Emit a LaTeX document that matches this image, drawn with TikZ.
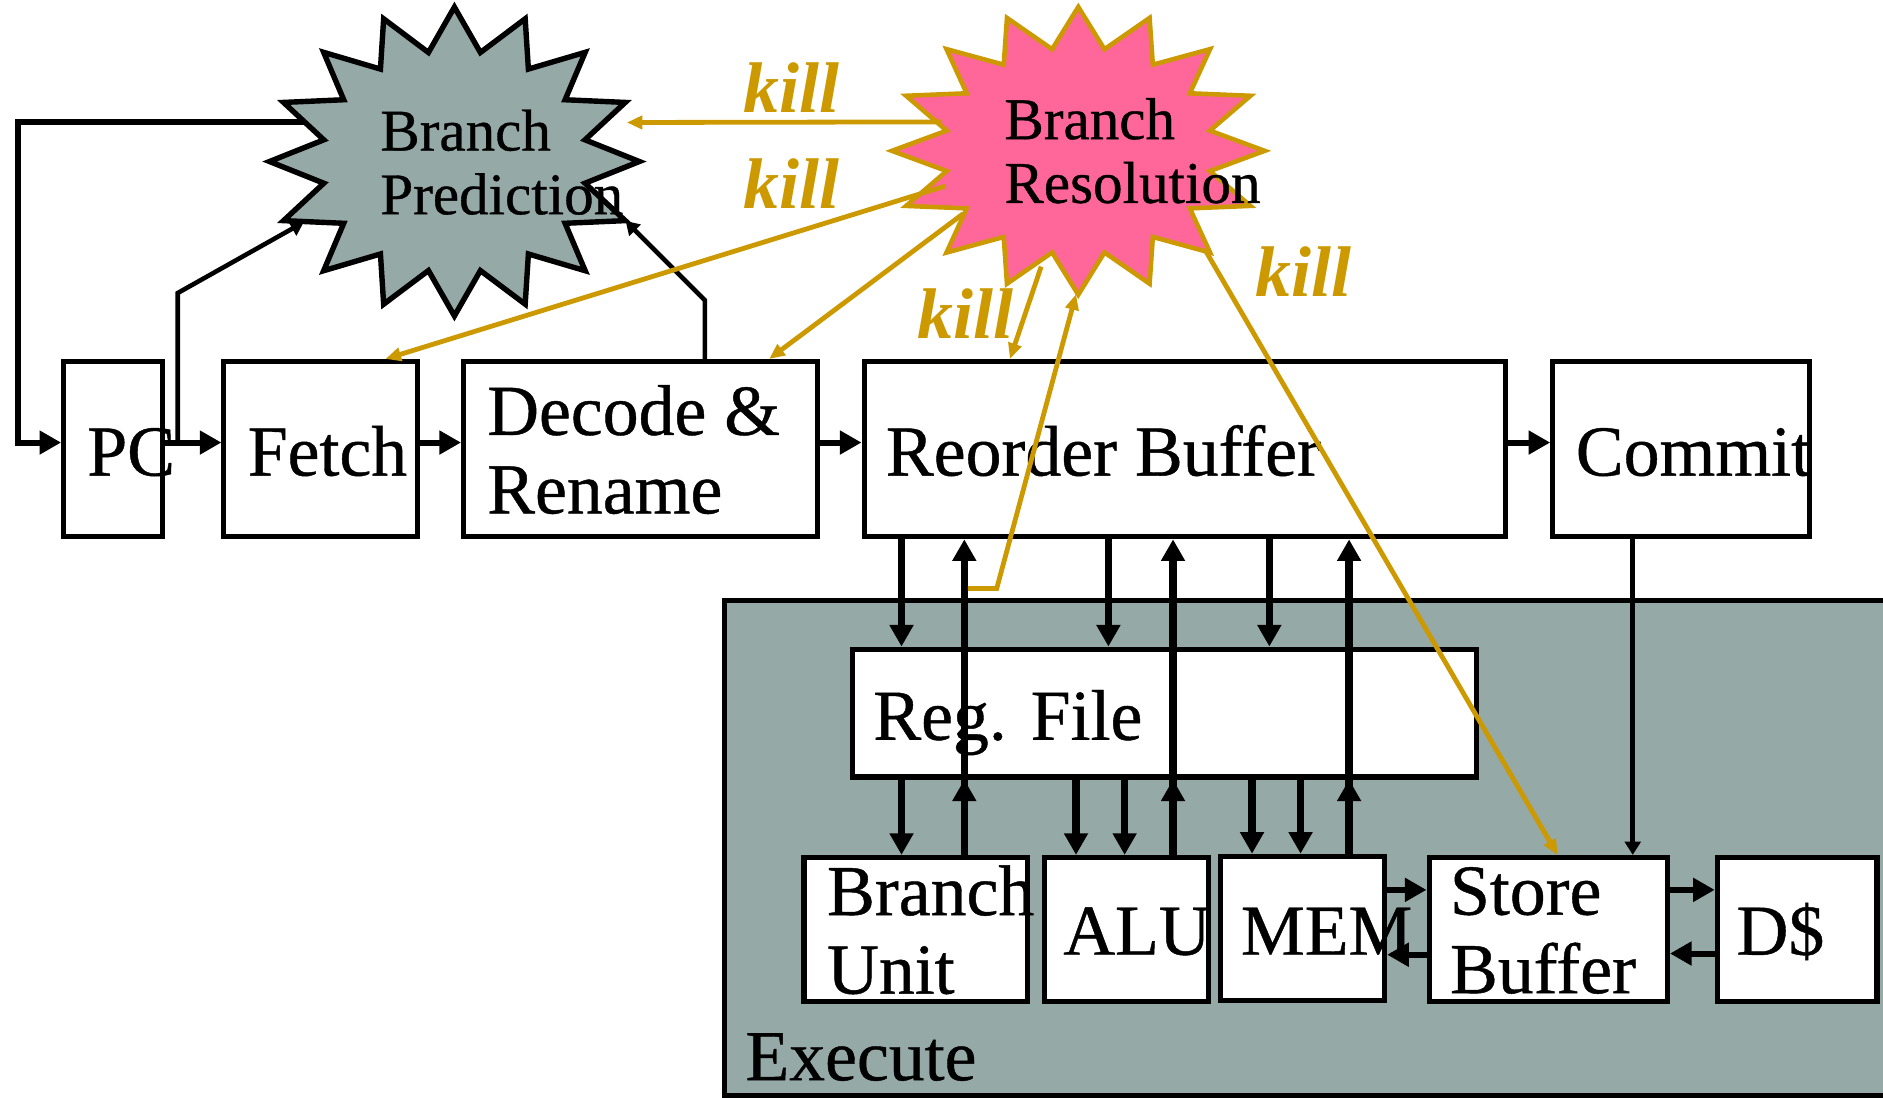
\documentclass[tikz,border=0pt]{standalone}
\usepackage{fontspec}
\setmainfont{Liberation Serif}
\newfontfamily\schoolfont{Liberation Serif}[FakeBold=0.6]
\usetikzlibrary{arrows.meta,fit}

\definecolor{execgray}{RGB}{149,169,167}
\definecolor{burstpink}{RGB}{255,102,153}
\definecolor{killgold}{RGB}{204,153,0}

\tikzset{
  unit/.style={draw=black, line width=0.42mm, fill=white, inner sep=0pt},
  boxtext/.style={anchor=base west, inner sep=0pt, align=left,
    font=\schoolfont\fontsize{17}{18.6}\selectfont},
  bursttext/.style={anchor=base west, inner sep=0pt, align=left,
    font=\schoolfont\fontsize{14}{15.1}\selectfont},
  killtext/.style={anchor=base west, inner sep=0pt, text=killgold,
    font=\fontsize{17}{18}\selectfont\bfseries\itshape},
  bus/.style={line width=0.5mm, -{Triangle[length=1.8mm,width=1.9mm]}},
  vbus/.style={line width=0.6mm, -{Triangle[length=1.8mm,width=1.9mm]}},
  wire/.style={line width=0.38mm, -{Triangle[length=1.1mm,width=1.3mm]}},
  killwire/.style={draw=killgold, line width=0.4mm,
    -{Triangle[length=1.3mm,width=1.1mm]}},
  % 16-point burst with elliptical radii: centre x, centre y, radius x, radius y
  burst/.style n args={4}{insert path={
    (#1,{#2-#4}) \foreach \k in {1,...,31}{
      -- ({#1+(0.86+0.14*cos(\k*180))*#3*sin(\k*11.25)},
          {#2-(0.86+0.14*cos(\k*180))*#4*cos(\k*11.25)}) } -- cycle}},
}

\begin{document}
\begin{tikzpicture}[x=0.1mm, y=-0.1mm]
\useasboundingbox (0,0) rectangle (1568,914);
\clip (0,0) rectangle (1568,914);

% execute stage background
\node[fit={(603,500) (1640,912)}, draw=black, line width=0.42mm,
      fill=execgray, inner sep=0pt] (exec) {};
\node[boxtext] (exectxt) at (620,899.5) {Execute};

% prediction and resolution bursts
\path[draw=black, line width=0.45mm, fill=execgray,
      burst={378.4}{134.5}{154}{128.6}];
\path[draw=killgold, line width=0.38mm, fill=burstpink,
      burst={897.9}{125.6}{155.2}{119.8}];
\node[bursttext] (bp) at (316,178.4) {Branch\\Prediction};
\node[bursttext] (br) at (835.7,168.9) {Branch\\Resolution};

% attachment points on the bursts
\coordinate (bp-w)   at (254,102);
\coordinate (bp-sw)  at (253,185);
\coordinate (bp-se)  at (521,184);
\coordinate (bp-e)   at (522,102);
\coordinate (br-w)   at (784,101.5);
\coordinate (br-wsw) at (787,155);
\coordinate (br-sw)  at (802,178);
\coordinate (br-s1)  at (867,222);
\coordinate (br-s)   at (896,245);
\coordinate (br-se)  at (1004,209);

% pipeline stages
\node[unit, fit={(53,301) (135,447)}] (pc) {};
\node[unit, fit={(186.5,301) (347.5,447)}] (fetch) {};
\node[unit, fit={(386,301) (680.5,447)}] (decode) {};
\node[unit, fit={(719.5,301) (1254,447)}] (rob) {};
\node[unit, fit={(1293,301) (1506.5,447)}] (commit) {};
\node[unit, fit={(710,540.5) (1229.5,647)}] (regfile) {};
\node[unit, fit={(669.5,714) (856,834)}] (bru) {};
\node[unit, fit={(870,714) (1006.5,834)}] (alu) {};
\node[unit, fit={(1016,713) (1153,833)}] (mem) {};
\node[unit, fit={(1190,714) (1388.5,834)}] (stbuf) {};
\node[unit, fit={(1430,714) (1563,834)}] (dcache) {};

\node[boxtext] (pctxt)     at (72,396)     {PC};
\node[boxtext] (fetchtxt)  at (205.6,396)  {Fetch};
\node[boxtext] (dectxt)    at (405,427.5)  {Decode \&\\Rename};
\node[boxtext] (robtxt)    at (737,396)    {Reorder Buffer};
\node[boxtext] (committxt) at (1311.5,396) {Commit};
\node[boxtext] (rftxt)     at (726.5,616)  {Reg. File};
\node[boxtext] (brutxt)    at (688,827.4)  {Branch\\Unit};
\node[boxtext] (alutxt)    at (884.7,795)  {ALU};
\node[boxtext] (memtxt)    at (1032.6,795) {MEM};
\node[boxtext] (sbtxt)     at (1206.7,827) {Store\\Buffer};
\node[boxtext] (dctxt)     at (1445.4,795) {D\$};

% front end
\coordinate (pcfork) at (148,368.5);
\draw[bus] (bp-w) -- (15,102) |- ([yshift=0.55mm]pc.west);
\draw[bus] ([yshift=0.55mm]pc.east) -- ([yshift=0.55mm]fetch.west);
\draw[bus] ([yshift=0.55mm]fetch.east) -- ([yshift=0.55mm]decode.west);
\draw[bus] ([yshift=0.55mm]decode.east) -- ([yshift=0.55mm]rob.west);
\draw[bus] ([yshift=0.55mm]rob.east) -- ([yshift=0.55mm]commit.west);
\draw[wire] (pcfork) -- (148,244) -- (bp-sw);
\draw[wire] (587,0 |- decode.north) -- (587,250) -- (bp-se);

% reorder buffer to register file
\draw[vbus] (750.7,0 |- rob.south) -- (750.7,0 |- regfile.north);
\draw[vbus] (923,0 |- rob.south) -- (923,0 |- regfile.north);
\draw[vbus] (1057,0 |- rob.south) -- (1057,0 |- regfile.north);

% register file to execution units
\draw[vbus] (750.7,0 |- regfile.south) -- (750.7,0 |- bru.north);
\draw[vbus] (896,0 |- regfile.south) -- (896,0 |- alu.north);
\draw[vbus] (936.5,0 |- regfile.south) -- (936.5,0 |- alu.north);
\draw[vbus] (1042.6,0 |- regfile.south) -- (1042.6,0 |- mem.north);
\draw[vbus] (1083,0 |- regfile.south) -- (1083,0 |- mem.north);

% results back to register file and reorder buffer
\draw[vbus] (803,0 |- bru.north) -- (803,0 |- regfile.south);
\draw[vbus] (803,0 |- bru.north) -- (803,0 |- rob.south);
\draw[vbus] (976.8,0 |- alu.north) -- (976.8,0 |- regfile.south);
\draw[vbus] (976.8,0 |- alu.north) -- (976.8,0 |- rob.south);
\draw[vbus] (1123.4,0 |- mem.north) -- (1123.4,0 |- regfile.south);
\draw[vbus] (1123.4,0 |- mem.north) -- (1123.4,0 |- rob.south);

% memory side
\draw[bus] ([yshift=3.2mm]mem.east) -- ([yshift=3.2mm]mem.east -| stbuf.west);
\draw[bus] ([yshift=-2.1mm]stbuf.west) -- ([yshift=-2.1mm]stbuf.west -| mem.east);
\draw[bus] ([yshift=3.3mm]stbuf.east) -- ([yshift=3.3mm]stbuf.east -| dcache.west);
\draw[bus] ([yshift=-2.0mm]dcache.west) -- ([yshift=-2.0mm]dcache.west -| stbuf.east);
\draw[wire] (1359.6,0 |- commit.south) -- (1359.6,0 |- stbuf.north);

% squash signals
\coordinate (brufork) at (806,490);
\draw[killwire] (br-w) -- (bp-e);
\draw[killwire] (br-wsw) -- (321,0 |- fetch.north);
\draw[killwire] (br-sw) -- (640.5,0 |- decode.north);
\draw[killwire] (br-s1) -- (841,0 |- rob.north);
\draw[killwire] (br-se) -- (1297,0 |- stbuf.north);
\draw[killwire] (brufork) -- (830,490) -- (br-s);

\node[killtext] (kill1) at (618.5,93.8)  {kill};
\node[killtext] (kill2) at (618.5,173.5) {kill};
\node[killtext] (kill3) at (763.3,281.7) {kill};
\node[killtext] (kill4) at (1045,246.5)  {kill};
\end{tikzpicture}
\end{document}
